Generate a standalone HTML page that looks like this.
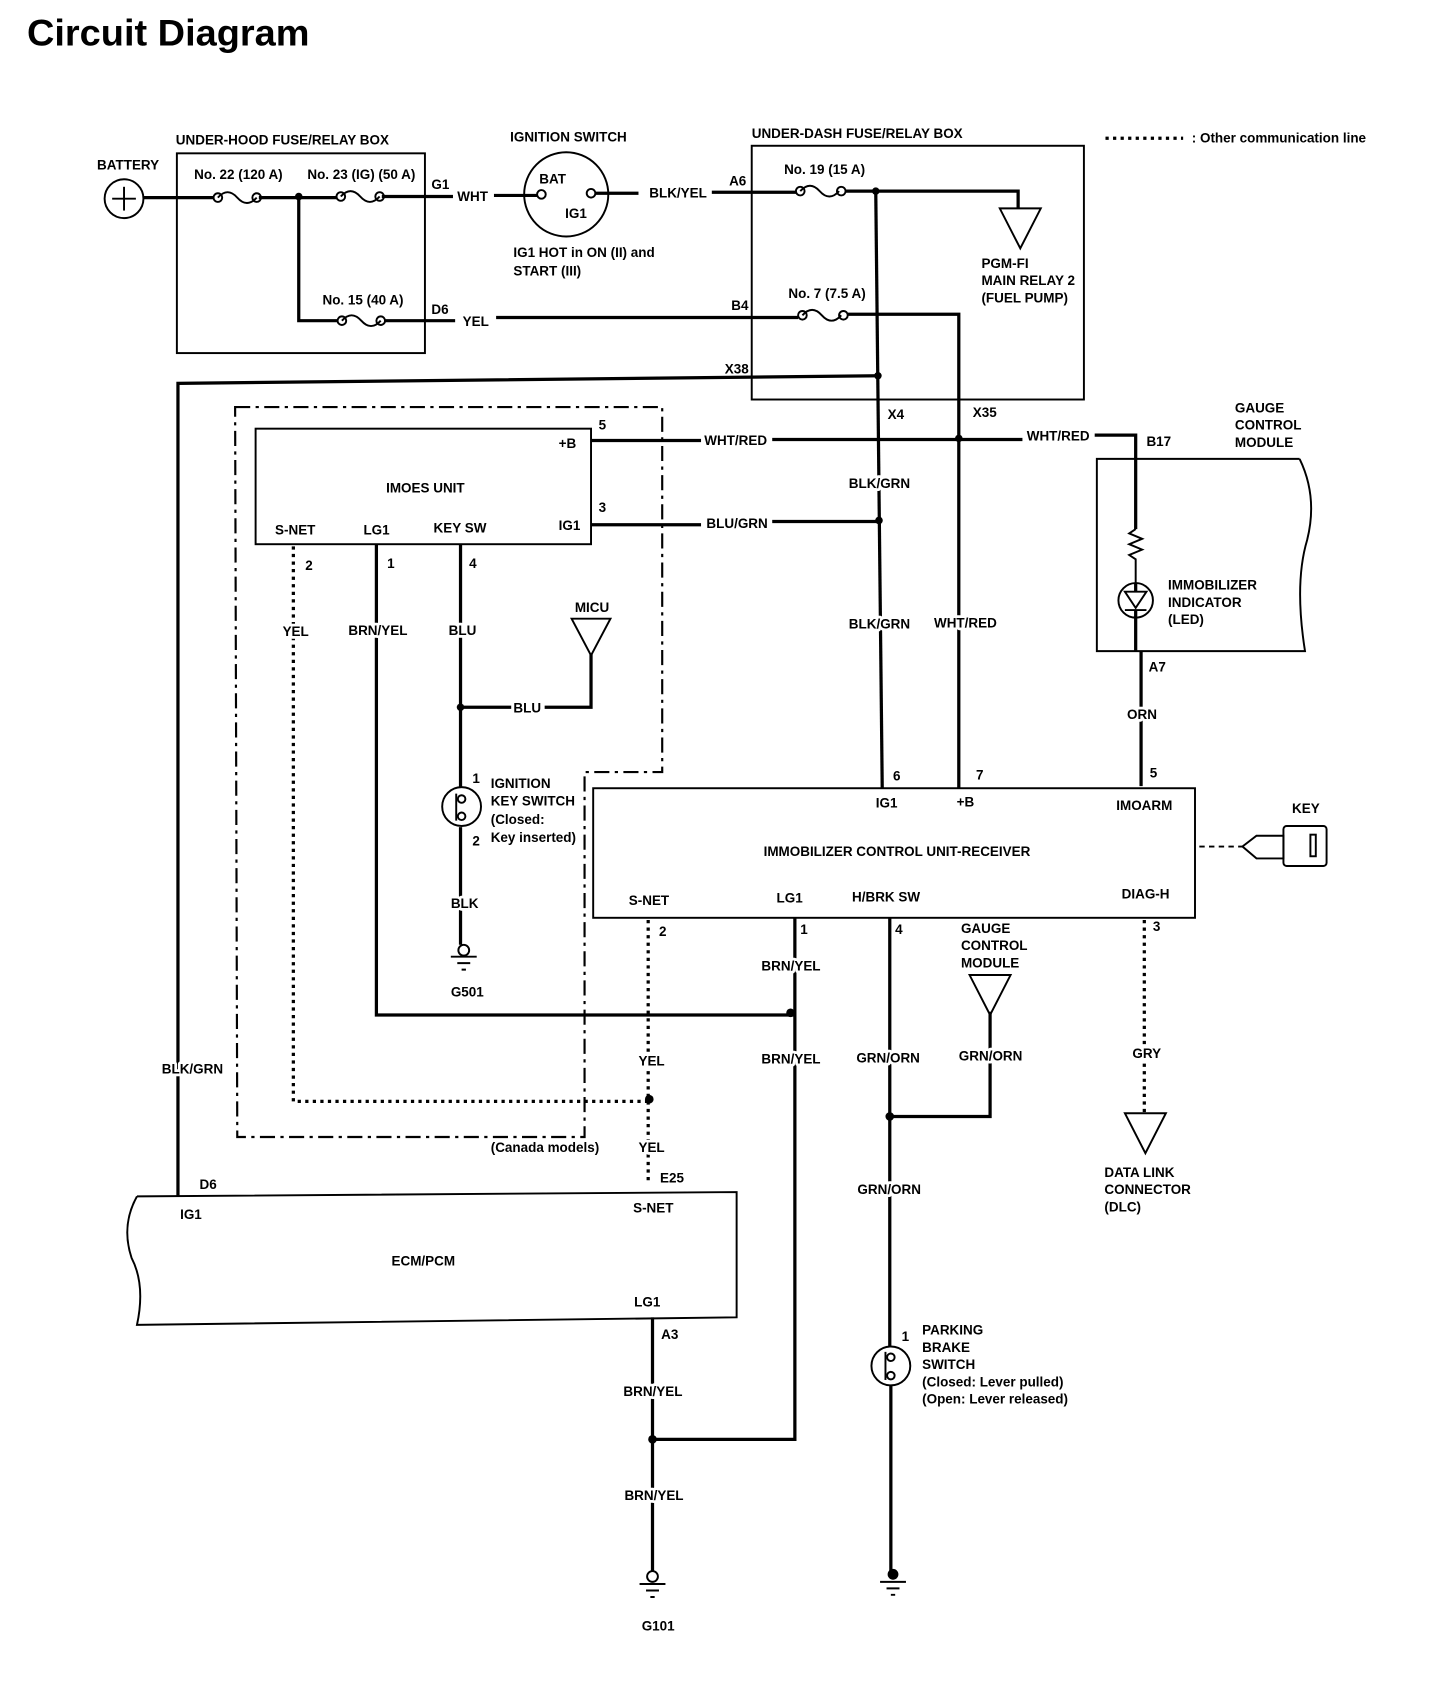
<!DOCTYPE html>
<html><head><meta charset="utf-8"><style>
html,body{margin:0;padding:0;background:#fff;}
svg{display:block;}
text{font-family:"Liberation Sans",sans-serif;font-weight:bold;font-size:12.5px;fill:#000;}
text.l{stroke:#fff;stroke-width:5px;paint-order:stroke;stroke-linejoin:round;}
.w{stroke:#000;stroke-width:3;fill:none;}
.b{stroke:#000;stroke-width:1.8;fill:none;}
.d{stroke:#000;stroke-width:3;fill:none;stroke-dasharray:3 4;}
.dd{stroke:#000;stroke-width:2;fill:none;stroke-dasharray:14 5 3 5;}
</style></head><body>
<svg width="1456" height="1692" viewBox="0 0 1350 1567" preserveAspectRatio="none" xmlns="http://www.w3.org/2000/svg">
<text x="25" y="42" style="font-size:34px" textLength="262" lengthAdjust="spacingAndGlyphs">Circuit Diagram</text>

<line x1="1025" y1="128" x2="1097" y2="128" class="d" stroke-width="2"/>
<text x="1105" y="132">: Other communication line</text>

<circle cx="115" cy="184" r="18" class="b"/>
<line x1="104" y1="184" x2="126" y2="184" class="b" stroke-width="1.2"/>
<line x1="115" y1="173" x2="115" y2="195" class="b" stroke-width="1.2"/>
<text x="90" y="157">BATTERY</text>

<text x="163" y="134">UNDER-HOOD FUSE/RELAY BOX</text>
<rect x="164" y="142" width="230" height="185" class="b"/>
<text x="180" y="166">No. 22 (120 A)</text>
<text x="285" y="166">No. 23 (IG) (50 A)</text>
<text x="299" y="282">No. 15 (40 A)</text>
<path d="M133 183 H198 M240 183 H312 M354 182 H420" class="w"/>
<path d="M202 183 q9 -10 18 0 q9 10 18 0" class="b"/>
<circle cx="202" cy="183" r="4" class="b" fill="#fff"/><circle cx="238" cy="183" r="4" class="b" fill="#fff"/>
<path d="M316 182 q9 -10 18 0 q9 10 18 0" class="b"/>
<circle cx="316" cy="182" r="4" class="b" fill="#fff"/><circle cx="352" cy="182" r="4" class="b" fill="#fff"/>
<circle cx="277" cy="182" r="3.5"/>
<path d="M277 182 V297 H313 M357 297 H422" class="w"/>
<path d="M317 297 q9 -10 18 0 q9 10 18 0" class="b"/>
<circle cx="317" cy="297" r="4" class="b" fill="#fff"/><circle cx="353" cy="297" r="4" class="b" fill="#fff"/>
<text x="400" y="175">G1</text>
<text x="424" y="186">WHT</text>
<text x="400" y="291">D6</text>
<text x="429" y="302">YEL</text>

<text x="473" y="131">IGNITION SWITCH</text>
<circle cx="525" cy="180" r="39" class="b"/>
<path d="M458 181 H498 M552 179 H592" class="w"/>
<circle cx="502" cy="180" r="4" class="b" fill="#fff"/><circle cx="548" cy="179" r="4" class="b" fill="#fff"/>
<text x="500" y="170">BAT</text>
<text x="524" y="202">IG1</text>
<text x="476" y="238">IG1 HOT in ON (II) and</text>
<text x="476" y="255">START (III)</text>
<text x="602" y="183">BLK/YEL</text>
<path d="M660 178 H738" class="w"/>
<path d="M460 294 H740" class="w"/>

<text x="697" y="128">UNDER-DASH FUSE/RELAY BOX</text>
<rect x="697" y="135" width="308" height="235" class="b"/>
<text x="676" y="172">A6</text>
<text x="727" y="161">No. 19 (15 A)</text>
<path d="M742 177 q9 -10 18 0 q9 10 18 0" class="b"/>
<circle cx="742" cy="177" r="4" class="b" fill="#fff"/><circle cx="780" cy="177" r="4" class="b" fill="#fff"/>
<path d="M784 177 H944 V193" class="w"/>
<circle cx="812" cy="177" r="3.5"/>
<polygon points="927,193 965,193 946,230" class="b"/>
<text x="910" y="248">PGM-FI</text>
<text x="910" y="264">MAIN RELAY 2</text>
<text x="910" y="280">(FUEL PUMP)</text>
<text x="678" y="287">B4</text>
<text x="731" y="276">No. 7 (7.5 A)</text>
<path d="M744 292 q9 -10 18 0 q9 10 18 0" class="b"/>
<circle cx="744" cy="292" r="4" class="b" fill="#fff"/><circle cx="782" cy="292" r="4" class="b" fill="#fff"/>
<path d="M786 291 H889 V730" class="w"/>
<text x="672" y="346">X38</text>
<path d="M165 1108 V355 L815 348" class="w"/>
<path d="M812 177 L818 730" class="w"/>
<circle cx="814" cy="348" r="3.5"/>
<text x="823" y="388">X4</text>
<text x="902" y="386">X35</text>

<path d="M548 408 H650 M716 407 H948 M1015 403 H1053 V490" class="w"/>
<circle cx="889" cy="406" r="3.5"/>
<text x="653" y="412">WHT/RED</text>
<text x="952" y="408">WHT/RED</text>
<text x="1063" y="413">B17</text>
<path d="M548 486 H650 M716 483 H815" class="w"/>
<circle cx="815" cy="482" r="3.5"/>
<text x="655" y="489">BLU/GRN</text>
<text class="l" x="787" y="452">BLK/GRN</text>
<text class="l" x="787" y="582">BLK/GRN</text>
<text class="l" x="866" y="581">WHT/RED</text>

<text x="1145" y="382">GAUGE</text>
<text x="1145" y="398">CONTROL</text>
<text x="1145" y="414">MODULE</text>
<path d="M1205 425 H1017 V603 H1210 Q1200 540 1212 500 Q1222 460 1205 425" class="b"/>
<path d="M1053 490 l-6 4 l12 5 l-12 5 l12 5 l-12 5 l6 4 V540" class="b" stroke-width="2"/>
<circle cx="1053" cy="556" r="16" class="b"/>
<polygon points="1043,548 1063,548 1053,563" class="b"/>
<line x1="1043" y1="565" x2="1063" y2="565" class="b"/>
<path d="M1053 540 V548 M1053 565 V603 M1058 603 V728" class="w"/>
<text x="1083" y="546">IMMOBILIZER</text>
<text x="1083" y="562">INDICATOR</text>
<text x="1083" y="578">(LED)</text>
<text x="1065" y="622">A7</text>
<text class="l" x="1045" y="666">ORN</text>

<path d="M218 377 H614 V715 H542 V1053 H220 Z" class="dd"/>
<text x="455" y="1067">(Canada models)</text>

<rect x="237" y="397" width="311" height="107" class="b"/>
<text x="518" y="415">+B</text>
<text x="358" y="456">IMOES UNIT</text>
<text x="255" y="495">S-NET</text>
<text x="337" y="495">LG1</text>
<text x="402" y="493">KEY SW</text>
<text x="518" y="491">IG1</text>
<text x="555" y="398">5</text>
<text x="555" y="474">3</text>
<text x="283" y="528">2</text>
<text x="359" y="526">1</text>
<text x="435" y="526">4</text>
<path d="M272 506 V1020 H602" class="d" stroke-width="2.5"/>
<path d="M349 504 V940 H737" class="w"/>
<text class="l" x="262" y="589">YEL</text>
<text class="l" x="323" y="588">BRN/YEL</text>
<path d="M427 504 V729 M427 766 V875" class="w"/>
<text class="l" x="416" y="588">BLU</text>
<circle cx="427" cy="655" r="3.5"/>
<path d="M427 655 H474 M505 655 H548 V605" class="w"/>
<text x="476" y="660">BLU</text>
<polygon points="530,573 566,573 548,607" class="b"/>
<text x="533" y="567">MICU</text>
<circle cx="428" cy="747" r="18" class="b"/>
<circle cx="428" cy="740" r="3.5" class="b" fill="#fff"/><circle cx="428" cy="756" r="3.5" class="b" fill="#fff"/>
<line x1="423" y1="735" x2="423" y2="760" class="b" stroke-width="1"/>
<text x="438" y="725">1</text>
<text x="438" y="783">2</text>
<text x="455" y="730">IGNITION</text>
<text x="455" y="746">KEY SWITCH</text>
<text x="455" y="763">(Closed:</text>
<text x="455" y="780">Key inserted)</text>
<text class="l" x="418" y="841">BLK</text>
<circle cx="430" cy="880" r="5" class="b" fill="#fff"/>
<path d="M418 886 H442 M424 892 H436 M428 898 H432" class="b" stroke-width="1.5"/>
<text x="418" y="923">G501</text>

<rect x="550" y="730" width="558" height="120" class="b"/>
<text x="812" y="748">IG1</text>
<text x="887" y="747">+B</text>
<text x="1035" y="750">IMOARM</text>
<text x="708" y="793">IMMOBILIZER CONTROL UNIT-RECEIVER</text>
<text x="583" y="838">S-NET</text>
<text x="720" y="836">LG1</text>
<text x="790" y="835">H/BRK SW</text>
<text x="1040" y="832">DIAG-H</text>
<text x="828" y="723">6</text>
<text x="905" y="722">7</text>
<text x="1066" y="720">5</text>
<text x="611" y="867">2</text>
<text x="742" y="865">1</text>
<text x="830" y="865">4</text>
<text x="1069" y="862">3</text>
<path d="M1112 784 H1152" class="b" stroke-dasharray="5 4"/>
<polygon points="1152,784 1165,774 1190,774 1190,795 1165,795" class="b" stroke-width="1.5"/>
<rect x="1190" y="765" width="40" height="37" rx="3" class="b" stroke-width="2"/>
<rect x="1215" y="773" width="5" height="20" class="b" stroke-width="1"/>
<text x="1198" y="753">KEY</text>

<path d="M601 852 V1095" class="d" stroke-width="2.5"/>
<circle cx="602" cy="1018" r="4"/>
<text class="l" x="592" y="987">YEL</text>
<text class="l" x="592" y="1067">YEL</text>
<text x="612" y="1095">E25</text>
<path d="M737 850 V1333 H605" class="w"/>
<circle cx="733" cy="938" r="4"/>
<text class="l" x="706" y="899">BRN/YEL</text>
<text class="l" x="706" y="985">BRN/YEL</text>
<path d="M825 850 V1247 M826 1283 V1458" class="w"/>
<text class="l" x="794" y="984">GRN/ORN</text>
<text class="l" x="795" y="1106">GRN/ORN</text>
<circle cx="825" cy="1034" r="4"/>
<path d="M825 1034 H918 V937" class="w"/>
<polygon points="899,903 937,903 918,940" class="b"/>
<text x="891" y="864">GAUGE</text>
<text x="891" y="880">CONTROL</text>
<text x="891" y="896">MODULE</text>
<text class="l" x="889" y="982">GRN/ORN</text>
<circle cx="826" cy="1265" r="18" class="b"/>
<circle cx="826" cy="1257" r="3.5" class="b" fill="#fff"/><circle cx="826" cy="1274" r="3.5" class="b" fill="#fff"/>
<line x1="821" y1="1252" x2="821" y2="1278" class="b" stroke-width="1"/>
<text x="836" y="1242">1</text>
<text x="855" y="1236">PARKING</text>
<text x="855" y="1252">BRAKE</text>
<text x="855" y="1268">SWITCH</text>
<text x="855" y="1284">(Closed: Lever pulled)</text>
<text x="855" y="1300">(Open: Lever released)</text>
<circle cx="828" cy="1458" r="5"/>
<path d="M816 1465 H840 M822 1471 H834 M826 1477 H830" class="b" stroke-width="1.5"/>

<path d="M1061 852 V1030" class="d" stroke-width="2.5"/>
<text class="l" x="1050" y="980">GRY</text>
<polygon points="1043,1031 1081,1031 1062,1068" class="b"/>
<text x="1024" y="1090">DATA LINK</text>
<text x="1024" y="1106">CONNECTOR</text>
<text x="1024" y="1122">(DLC)</text>

<path d="M127 1108 L683 1104 V1220 L127 1227 Q135 1190 122 1165 Q112 1135 127 1108" class="b"/>
<text x="185" y="1101">D6</text>
<text x="167" y="1129">IG1</text>
<text x="587" y="1123">S-NET</text>
<text x="363" y="1172">ECM/PCM</text>
<text x="588" y="1210">LG1</text>
<text x="613" y="1240">A3</text>
<text class="l" x="150" y="994">BLK/GRN</text>
<path d="M605 1220 V1455" class="w"/>
<circle cx="605" cy="1333" r="4"/>
<text class="l" x="578" y="1293">BRN/YEL</text>
<text class="l" x="579" y="1389">BRN/YEL</text>
<circle cx="605" cy="1460" r="5" class="b" fill="#fff"/>
<path d="M593 1467 H617 M599 1473 H611 M603 1479 H607" class="b" stroke-width="1.5"/>
<text x="595" y="1510">G101</text>
</svg>
</body></html>
